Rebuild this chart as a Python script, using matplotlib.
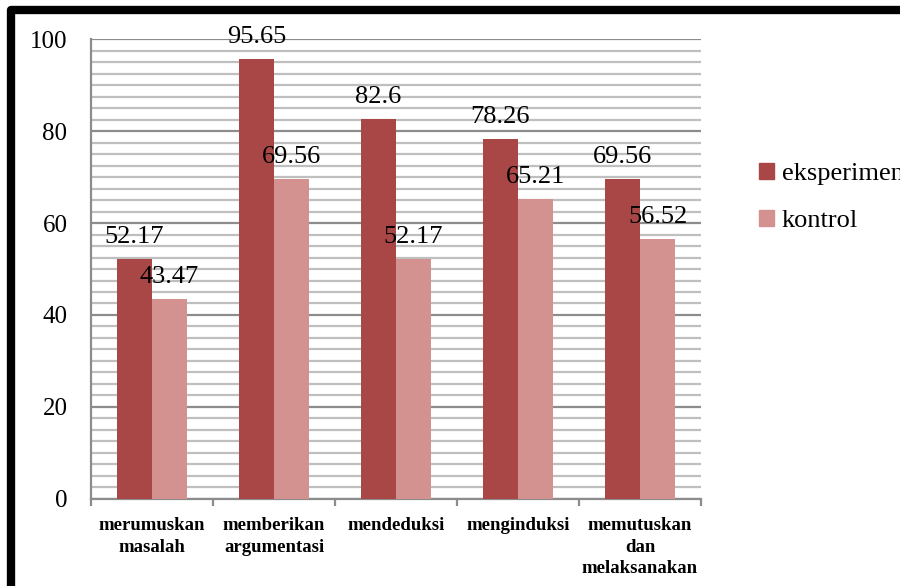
#!/usr/bin/env python3
#coding:utf-8

"""
  Purpose: bar chart eksperimen vs kontrol per indikator
"""

import numpy as np
import matplotlib
matplotlib.use('Agg')
import matplotlib.pyplot as plt
from matplotlib.patches import Rectangle, Patch
from matplotlib.ticker import MultipleLocator, FixedLocator

#----------------------------------------------------------------------
categories = ['merumuskan\nmasalah', 'memberikan\nargumentasi', 'mendeduksi',
              'menginduksi', 'memutuskan\ndan\nmelaksanakan']
eksperimen = [52.17, 95.65, 82.6, 78.26, 69.56]
kontrol = [43.47, 69.56, 52.17, 65.21, 56.52]
series_names = ['eksperimen', 'kontrol']

dark = '#A84745'
light = '#D39190'

plt.rcParams['font.family'] = ['Liberation Serif', 'DejaVu Serif']

#----------------------------------------------------------------------
fig = plt.figure(figsize=(9, 5.86), dpi=100)
ax = fig.add_axes([0.1011, 0.1485, 0.6778, 0.7849])

x = np.arange(len(categories))
w = 0.287
b1 = ax.bar(x - w/2, eksperimen, w, color=dark, zorder=3)
b2 = ax.bar(x + w/2, kontrol, w, color=light, zorder=3)
ax.bar_label(b1, labels=['%g' % v for v in eksperimen], padding=8, fontsize=19)
ax.bar_label(b2, labels=['%g' % v for v in kontrol], padding=8, fontsize=19)

ax.set_xlim(-0.5, len(categories) - 0.5)
ax.set_ylim(0, 100)

# grid: light minor lines every 2.5, darker major lines every 20
ax.yaxis.set_major_locator(MultipleLocator(20))
ax.yaxis.set_minor_locator(MultipleLocator(2.5))
ax.grid(axis='y', which='minor', color='#BFBFBF', linewidth=1.6, zorder=0)
ax.grid(axis='y', which='major', color='#8C8C8C', linewidth=1.6, zorder=1)
ax.set_axisbelow(True)

ax.tick_params(axis='y', which='both', length=0, labelsize=18, pad=17)
ax.set_xticks(x)
ax.set_xticklabels(categories, fontsize=13.5, fontweight='bold', linespacing=1.35)
ax.tick_params(axis='x', which='major', length=0, pad=13)
ax.xaxis.set_minor_locator(FixedLocator(np.arange(-0.5, len(categories), 1)))
ax.tick_params(axis='x', which='minor', length=5, width=1.6, color='#8C8C8C')

for s in ['top', 'right']:
    ax.spines[s].set_visible(False)
for s in ['left', 'bottom']:
    ax.spines[s].set_color('#8C8C8C')
    ax.spines[s].set_linewidth(1.6)

#----------------------------------------------------------------------
handles = [Patch(color=dark), Patch(color=light)]
fig.legend(handles, series_names, loc='upper left', bbox_to_anchor=(0.832, 0.740),
           frameon=False, fontsize=19, handlelength=0.55, handleheight=0.55,
           handletextpad=0.3, labelspacing=0.94, borderaxespad=0)

# thick black frame around the chart (runs off the right and bottom edge)
fig.patches.append(Rectangle((11/900, -0.1), 1.2, 1 - 9.5/586 + 0.1,
                             transform=fig.transFigure, fill=False,
                             edgecolor='black', linewidth=6, joinstyle='round'))

fig.savefig('out.png', dpi=100)
